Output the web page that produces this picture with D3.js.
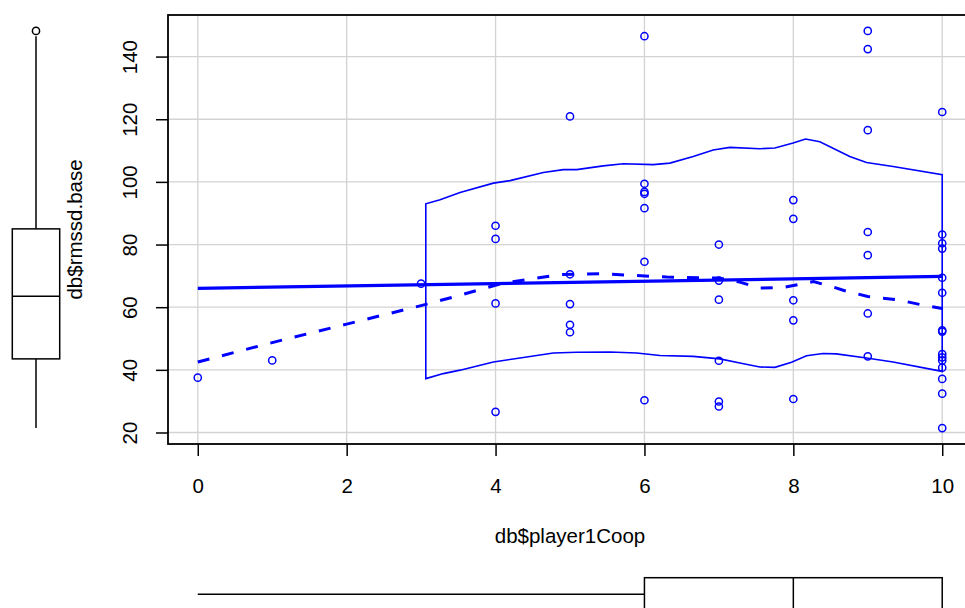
<!DOCTYPE html>
<html>
<head>
<meta charset="utf-8">
<script src="https://cdn.jsdelivr.net/npm/d3@7"></script>
<style>
  html, body { margin: 0; padding: 0; background: #fff; }
  svg { display: block; }
  text { font-family: "Liberation Sans", Arial, Helvetica, sans-serif; fill: #000; }
</style>
</head>
<body>
<svg id="chart" width="965" height="608"></svg>
<script>
// ---------- data ----------
const coop = [0, 1, 3,
  4, 4, 4, 4,
  5, 5, 5, 5, 5,
  6, 6, 6, 6, 6, 6, 6,
  7, 7, 7, 7, 7, 7,
  8, 8, 8, 8, 8,
  9, 9, 9, 9, 9, 9, 9,
  10, 10, 10, 10, 10, 10, 10, 10, 10, 10, 10, 10, 10, 10, 10];
const rmssd = [37.5, 43.0, 67.5,
  86.0, 81.8, 61.2, 26.6,
  120.9, 70.5, 61.0, 54.4, 52.0,
  146.5, 99.4, 96.8, 96.2, 91.6, 74.5, 30.3,
  80.0, 68.5, 62.4, 42.9, 29.9, 28.3,
  94.2, 88.2, 62.2, 55.8, 30.7,
  148.2, 142.4, 116.5, 84.0, 76.6, 58.0, 44.3,
  122.3, 83.2, 80.4, 78.7, 69.4, 64.6, 52.6, 52.2, 45.0, 44.0, 43.0, 40.7, 37.1, 32.4, 21.4];

// smoother (dashed)
const smoothX = [0, 1, 2, 3, 3.52, 4.1, 4.42, 4.87, 5.4, 5.9, 6.3, 7.0, 7.28, 7.55, 7.86, 8.0, 8.27, 8.54, 8.67, 9.0, 9.4, 9.77, 10];
const smoothY = [42.5, 48.7, 54.6, 60.5, 63.8, 67.7, 68.8, 70.4, 70.7, 70.1, 69.6, 69.3, 68.0, 66.1, 66.3, 66.9, 68.2, 66.4, 65.4, 63.4, 62.4, 60.5, 59.6];

// spread envelope
const spreadX = [3.063, 3.255, 3.523, 3.971, 4.195, 4.642, 4.910, 5.090, 5.447, 5.715, 6.118, 6.342, 6.655, 6.923, 7.148, 7.550, 7.752, 7.997, 8.164, 8.356, 8.758, 8.983, 9.340, 10.0];
const spreadUpper = [93.0, 94.3, 96.6, 99.6, 100.4, 103.0, 103.9, 103.9, 105.1, 105.8, 105.5, 106.0, 108.1, 110.2, 111.0, 110.6, 110.8, 112.4, 113.7, 112.8, 108.1, 106.2, 104.9, 102.3];
const spreadLowerX = [3.063, 3.299, 3.523, 3.971, 4.329, 4.776, 5.090, 5.537, 5.895, 6.208, 6.655, 7.013, 7.282, 7.550, 7.752, 7.976, 8.177, 8.399, 8.579, 8.983, 9.340, 10.0];
const spreadLower = [37.2, 38.8, 39.9, 42.5, 43.8, 45.4, 45.6, 45.7, 45.4, 44.6, 44.3, 43.5, 42.2, 40.9, 40.8, 42.4, 44.5, 45.2, 45.1, 43.8, 42.5, 39.5];

const xTicks = [0, 2, 4, 6, 8, 10];
const yTicks = [20, 40, 60, 80, 100, 120, 140];
const xLabel = "db$player1Coop";
const yLabel = "db$rmssd.base";

// ---------- layout ----------
const plot = { left: 168, right: 972, top: 15, bottom: 444 };
const FONT = 20.5;
const BLUE = "#0000ff";
const PR = 3.6, PW = 1.5;

const svg = d3.select("#chart");

function padded(arr) {
  const [a, b] = d3.extent(arr);
  const p = 0.04 * (b - a);
  return [a - p, b + p];
}
const x = d3.scaleLinear().domain(padded(coop)).range([plot.left, plot.right]);
const y = d3.scaleLinear().domain(padded(rmssd)).range([plot.bottom, plot.top]);

// grid
const grid = svg.append("g").attr("stroke", "#d3d3d3").attr("stroke-width", 1.3);
grid.selectAll(".gx").data(xTicks).join("line")
  .attr("x1", d => x(d)).attr("x2", d => x(d))
  .attr("y1", plot.top).attr("y2", plot.bottom);
grid.selectAll(".gy").data(yTicks).join("line")
  .attr("y1", d => y(d)).attr("y2", d => y(d))
  .attr("x1", plot.left).attr("x2", plot.right);

// axes
const ax = svg.append("g").attr("transform", `translate(0,${plot.bottom})`)
  .call(d3.axisBottom(x).tickValues(xTicks).tickSize(12).tickPadding(22).tickFormat(d3.format("d")));
ax.select(".domain").remove();
ax.selectAll("line").attr("stroke", "#000").attr("stroke-width", 1.5);
ax.selectAll("text").attr("font-size", FONT).attr("font-family", null);

const ay = svg.append("g").attr("transform", `translate(${plot.left},0)`)
  .call(d3.axisLeft(y).tickValues(yTicks).tickSize(12).tickFormat(d3.format("d")));
ay.select(".domain").remove();
ay.selectAll("line").attr("stroke", "#000").attr("stroke-width", 1.5);
ay.selectAll("text").attr("font-size", FONT).attr("font-family", null)
  .attr("x", null).attr("dy", null)
  .attr("text-anchor", "middle")
  .attr("transform", "translate(-31,0) rotate(-90)");
ax.attr("font-family", null); ay.attr("font-family", null);

// axis titles
svg.append("text").attr("x", (plot.left + plot.right) / 2).attr("y", 543)
  .attr("text-anchor", "middle").attr("font-size", FONT).text(xLabel);
svg.append("text").attr("transform", `translate(81.5,${(plot.top + plot.bottom) / 2}) rotate(-90)`)
  .attr("text-anchor", "middle").attr("font-size", FONT).text(yLabel);

// points
const pts = coop.map((c, i) => ({ c, r: rmssd[i] }));
svg.append("g").selectAll("circle").data(pts).join("circle")
  .attr("cx", d => x(d.c)).attr("cy", d => y(d.r)).attr("r", PR)
  .attr("fill", "none").attr("stroke", BLUE).attr("stroke-width", PW);

// linear regression
const mx = d3.mean(coop), my = d3.mean(rmssd);
let sxy = 0, sxx = 0;
coop.forEach((c, i) => { sxy += (c - mx) * (rmssd[i] - my); sxx += (c - mx) * (c - mx); });
const slope = sxy / sxx, icpt = my - slope * mx;
const [cmin, cmax] = d3.extent(coop);
svg.append("line")
  .attr("x1", x(cmin)).attr("y1", y(icpt + slope * cmin))
  .attr("x2", x(cmax)).attr("y2", y(icpt + slope * cmax))
  .attr("stroke", BLUE).attr("stroke-width", 3.2);

// smoother
const line = d3.line().x(d => x(d[0])).y(d => y(d[1]));
svg.append("path").attr("d", line(smoothX.map((v, i) => [v, smoothY[i]])))
  .attr("fill", "none").attr("stroke", BLUE).attr("stroke-width", 3)
  .attr("stroke-dasharray", "12,13");

// spread envelope (closed outline)
const env = spreadLowerX.map((v, i) => [v, spreadLower[i]])
  .concat(spreadX.map((v, i) => [v, spreadUpper[i]]).reverse());
svg.append("path").attr("d", line(env) + "Z")
  .attr("fill", "none").attr("stroke", BLUE).attr("stroke-width", 1.6);

// plot box
svg.append("rect").attr("x", plot.left).attr("y", plot.top)
  .attr("width", plot.right - plot.left).attr("height", plot.bottom - plot.top)
  .attr("fill", "none").attr("stroke", "#000").attr("stroke-width", 1.8);

// ---------- marginal boxplots ----------
function fivenum(arr) {
  const s = arr.slice().sort((a, b) => a - b), n = s.length;
  const n4 = Math.floor((n + 3) / 2) / 2;
  const d = [1, n4, (n + 1) / 2, n + 1 - n4, n];
  return d.map(k => 0.5 * (s[Math.floor(k) - 1] + s[Math.ceil(k) - 1]));
}
function boxStats(arr) {
  const f = fivenum(arr);
  const iqr = f[3] - f[1];
  const inside = arr.filter(v => v >= f[1] - 1.5 * iqr && v <= f[3] + 1.5 * iqr);
  return { q1: f[1], med: f[2], q3: f[3], lo: d3.min(inside), hi: d3.max(inside),
    out: arr.filter(v => v < f[1] - 1.5 * iqr || v > f[3] + 1.5 * iqr) };
}

// vertical (left) boxplot of rmssd
const by = boxStats(rmssd);
const bx = { c: 36, h: 23.7 };
const gl = svg.append("g").attr("stroke", "#000").attr("stroke-width", 1.5).attr("fill", "none");
gl.append("rect").attr("x", bx.c - bx.h).attr("width", 2 * bx.h)
  .attr("y", y(by.q3)).attr("height", y(by.q1) - y(by.q3));
gl.append("line").attr("x1", bx.c - bx.h).attr("x2", bx.c + bx.h).attr("y1", y(by.med)).attr("y2", y(by.med));
gl.append("line").attr("x1", bx.c).attr("x2", bx.c).attr("y1", y(by.q3)).attr("y2", y(by.hi));
gl.append("line").attr("x1", bx.c).attr("x2", bx.c).attr("y1", y(by.q1)).attr("y2", y(by.lo));
gl.selectAll("circle").data(by.out).join("circle")
  .attr("cx", bx.c).attr("cy", d => y(d)).attr("r", PR).attr("stroke-width", PW);

// horizontal (bottom) boxplot of coop
const bh = boxStats(coop);
const bb = { c: 594.3, h: 16.6 };
const gb = svg.append("g").attr("stroke", "#000").attr("stroke-width", 1.5).attr("fill", "none");
gb.append("rect").attr("y", bb.c - bb.h).attr("height", 2 * bb.h)
  .attr("x", x(bh.q1)).attr("width", x(bh.q3) - x(bh.q1));
gb.append("line").attr("y1", bb.c - bb.h).attr("y2", bb.c + bb.h).attr("x1", x(bh.med)).attr("x2", x(bh.med));
gb.append("line").attr("y1", bb.c).attr("y2", bb.c).attr("x1", x(bh.q1)).attr("x2", x(bh.lo));
gb.append("line").attr("y1", bb.c).attr("y2", bb.c).attr("x1", x(bh.q3)).attr("x2", x(bh.hi));
gb.selectAll("circle").data(bh.out).join("circle")
  .attr("cy", bb.c).attr("cx", d => x(d)).attr("r", PR).attr("stroke-width", PW);
</script>
</body>
</html>
